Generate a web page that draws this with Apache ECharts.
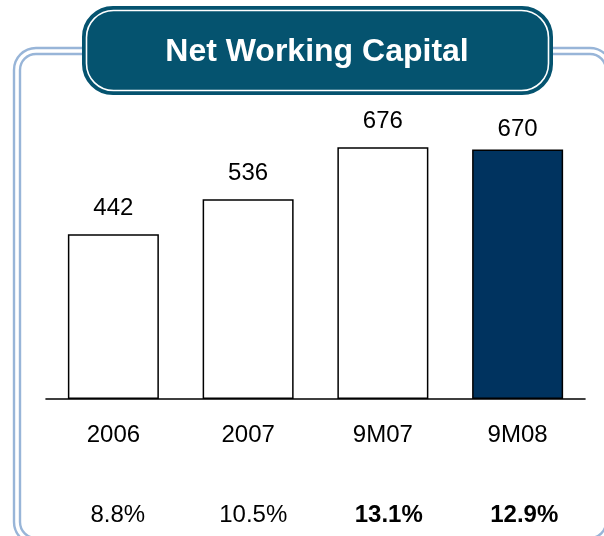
<!DOCTYPE html>
<html>
<head>
<meta charset="utf-8">
<title>Net Working Capital</title>
<script src="https://cdn.jsdelivr.net/npm/echarts@6/dist/echarts.min.js"></script>
<style>
  html, body { margin: 0; padding: 0; background: #ffffff; }
  #chart { width: 604px; height: 536px; }
</style>
</head>
<body>
<div id="chart"></div>
<script>
// Net working capital by period, with ratio shown beneath each period
const chartTitle = 'Net Working Capital';
const periods = ['2006', '2007', '9M07', '9M08'];
const workingCapital = [442, 536, 676, 670];
const ratioLabels = ['8.8%', '10.5%', '13.1%', '12.9%'];
const boldRatio = [false, false, true, true];
const highlightPeriod = '9M08';

const FONT = '"Liberation Sans", Arial, Helvetica, sans-serif';
const FRAME_BLUE = '#98b5d8';
const TITLE_FILL = '#05536f';
const NAVY = '#00335f';

const chart = echarts.init(document.getElementById('chart'), null, { renderer: 'canvas' });

const barData = workingCapital.map((v, i) => ({
  value: v,
  itemStyle: {
    color: periods[i] === highlightPeriod ? NAVY : '#ffffff',
    borderColor: '#000000',
    borderWidth: 1.5
  },
  label: { distance: periods[i] === highlightPeriod ? 8 : 14 }
}));

const ratioAxisData = ratioLabels.map((t, i) => ({
  value: t,
  textStyle: { fontWeight: boldRatio[i] ? 'bold' : 'normal' }
}));

chart.setOption({
  animation: false,
  backgroundColor: '#ffffff',
  textStyle: { fontFamily: FONT },
  graphic: [
    // double rounded frame around the panel
    {
      type: 'rect', z: 0, silent: true,
      shape: { x: 14, y: 48, width: 598, height: 496, r: 22 },
      style: { fill: 'none', stroke: FRAME_BLUE, lineWidth: 2.4 }
    },
    {
      type: 'rect', z: 0, silent: true,
      shape: { x: 20, y: 54, width: 586, height: 484, r: 16 },
      style: { fill: 'none', stroke: FRAME_BLUE, lineWidth: 2.4 }
    },
    // title badge
    {
      type: 'rect', z: 10, silent: true,
      shape: { x: 83, y: 7, width: 469, height: 87, r: 30 },
      style: { fill: TITLE_FILL, stroke: TITLE_FILL, lineWidth: 2 }
    },
    {
      type: 'rect', z: 11, silent: true,
      shape: { x: 86.5, y: 10.5, width: 462, height: 80, r: 27 },
      style: { fill: 'none', stroke: '#ffffff', lineWidth: 1.6 }
    },
    {
      type: 'text', z: 12, silent: true,
      x: 317, y: 52,
      style: {
        text: chartTitle,
        fill: '#ffffff',
        font: 'bold 32px ' + FONT,
        align: 'center',
        verticalAlign: 'middle'
      }
    }
  ],
  grid: [
    { left: 46, right: 19, top: 101, bottom: 137, containLabel: false },
    { left: 50, right: 12, top: 101, bottom: 137, containLabel: false }
  ],
  xAxis: [
    {
      type: 'category',
      gridIndex: 0,
      data: periods,
      position: 'bottom',
      axisLine: { show: true, lineStyle: { color: '#000000', width: 1.6 } },
      axisTick: { show: false },
      axisLabel: { color: '#000000', fontSize: 24, fontFamily: FONT, margin: 24 }
    },
    {
      type: 'category',
      gridIndex: 1,
      data: ratioAxisData,
      position: 'bottom',
      offset: 80,
      axisLine: { show: false },
      axisTick: { show: false },
      axisLabel: { color: '#000000', fontSize: 24, fontFamily: FONT, margin: 24 }
    }
  ],
  yAxis: [
    { type: 'value', gridIndex: 0, min: 0, max: 800, show: false, splitLine: { show: false } },
    { type: 'value', gridIndex: 1, min: 0, max: 800, show: false, splitLine: { show: false } }
  ],
  series: [
    {
      type: 'bar',
      xAxisIndex: 0,
      yAxisIndex: 0,
      data: barData,
      barWidth: 91,
      label: {
        show: true,
        position: 'top',
        distance: 14,
        color: '#000000',
        fontSize: 24,
        fontFamily: FONT
      }
    }
  ]
});
</script>
</body>
</html>
